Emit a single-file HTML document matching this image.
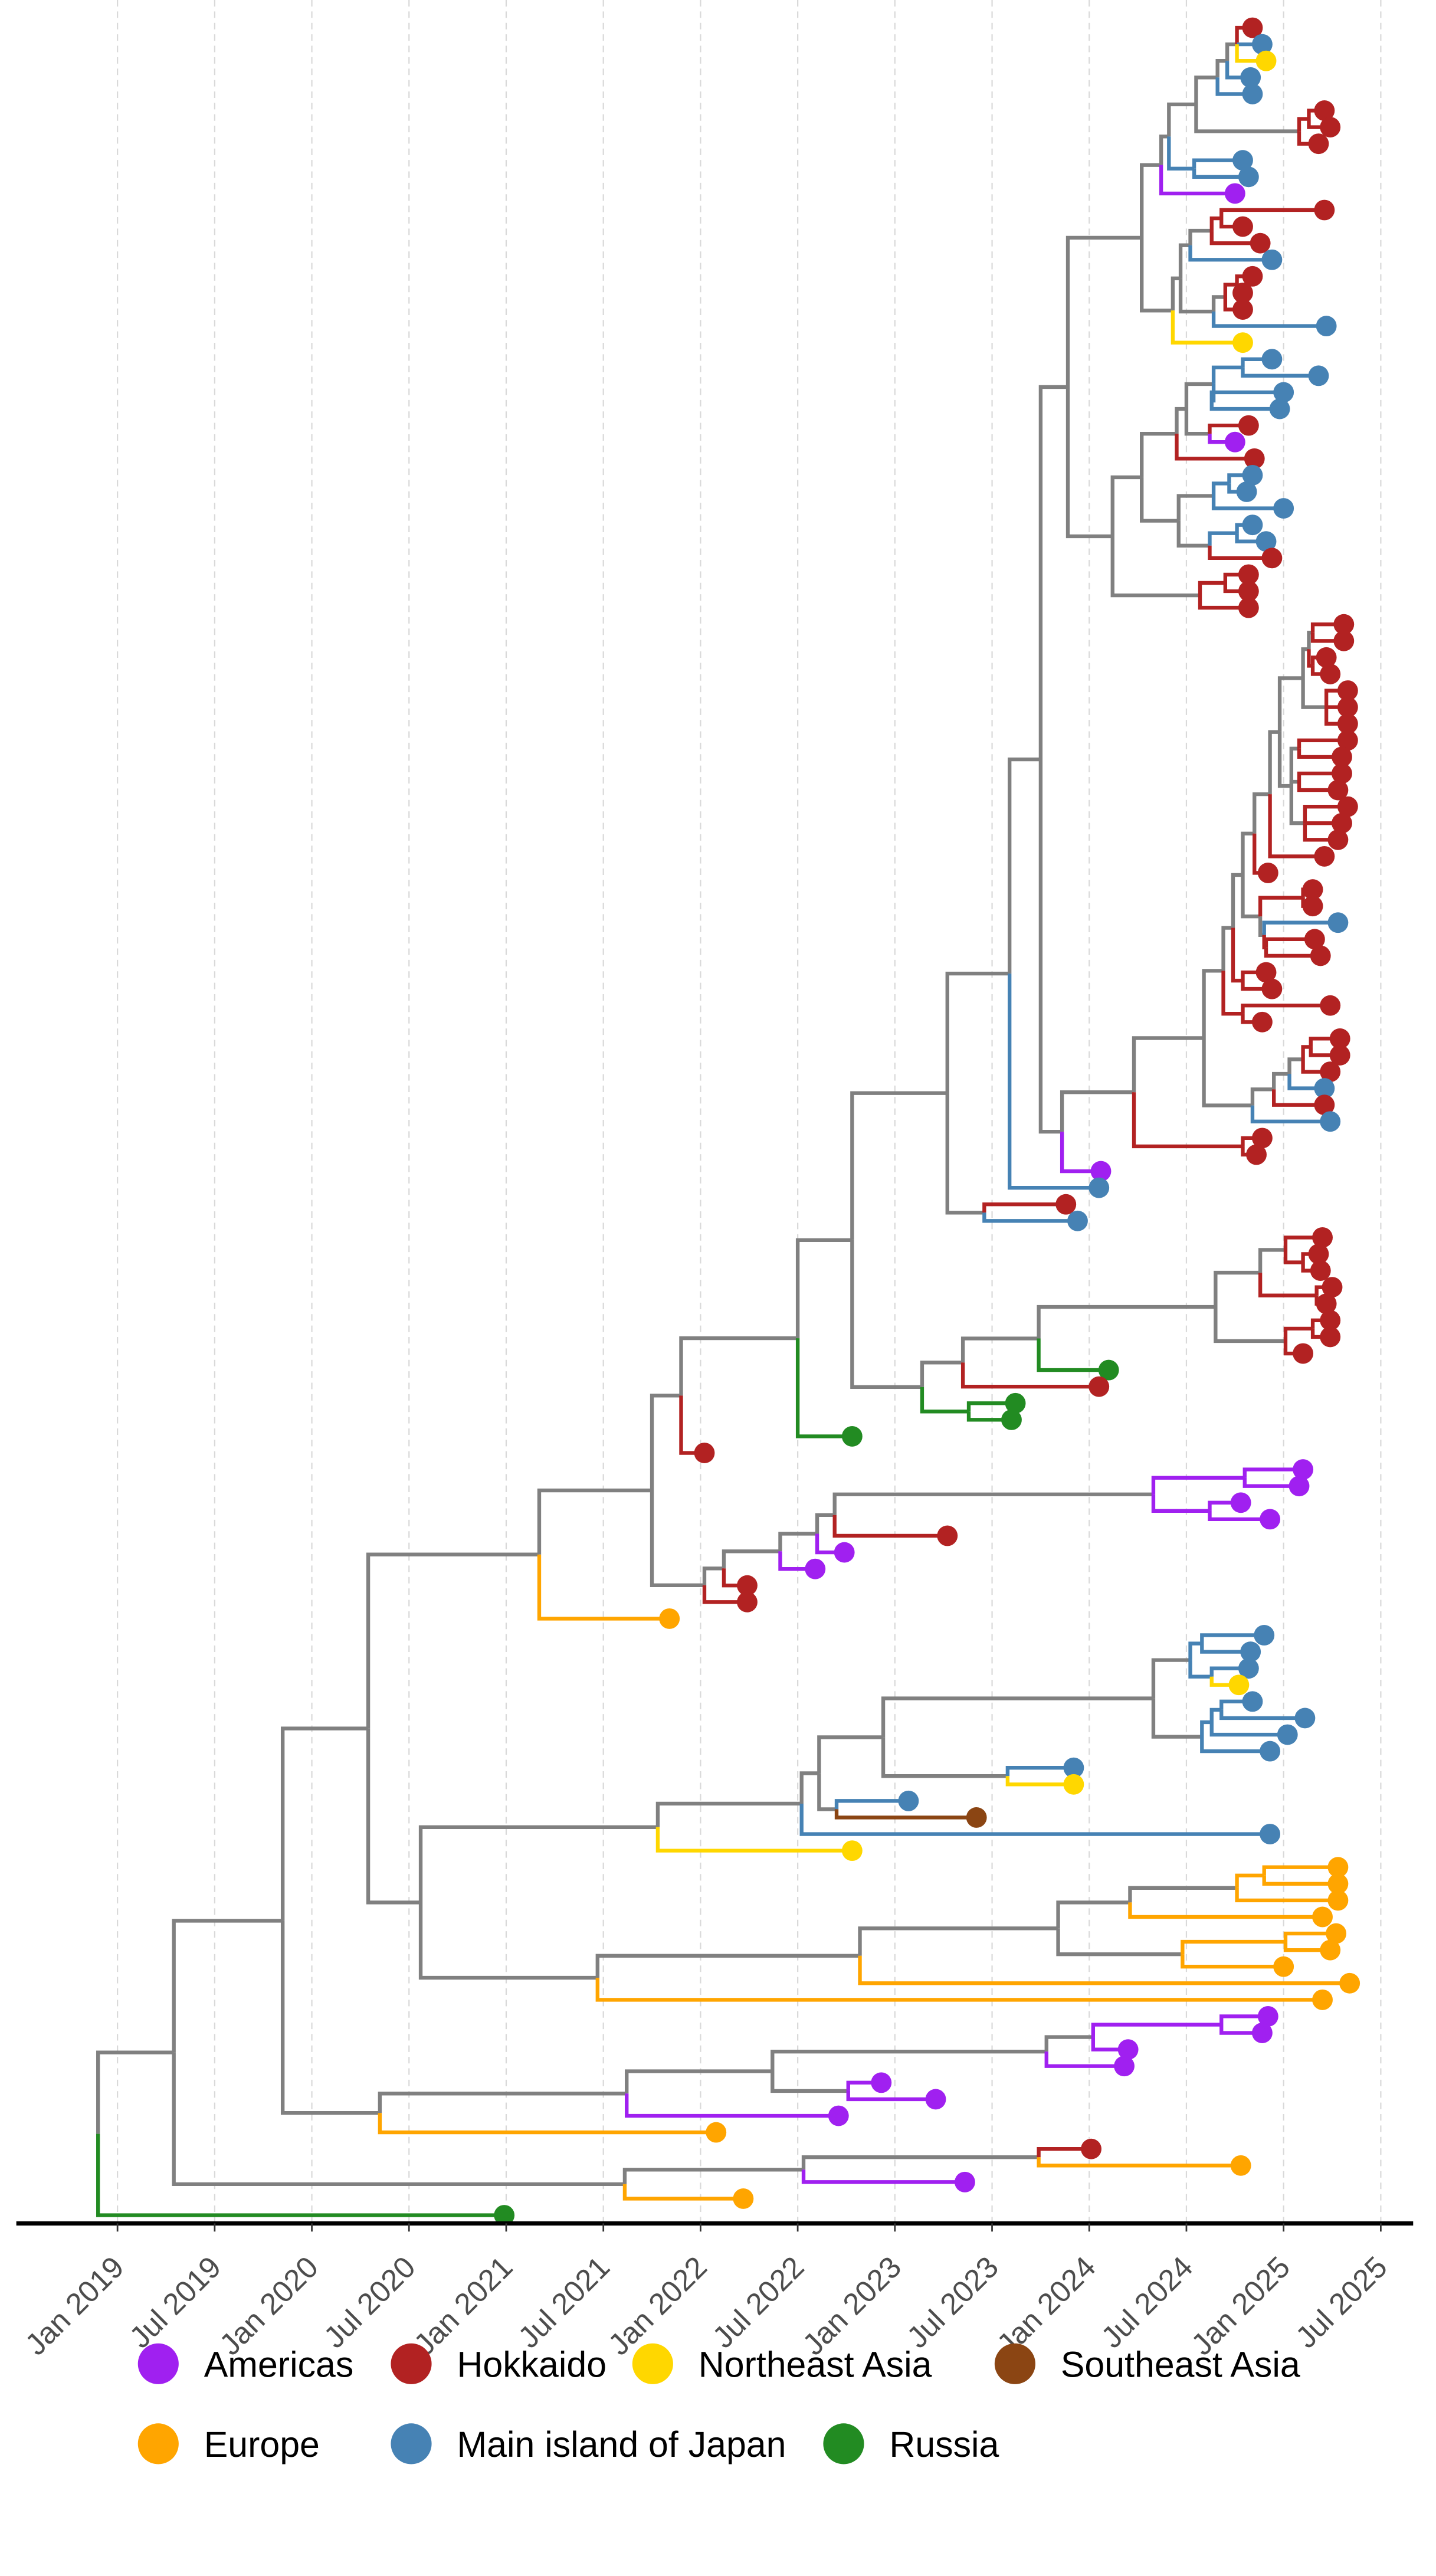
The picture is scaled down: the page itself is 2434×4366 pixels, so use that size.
<!DOCTYPE html>
<html><head><meta charset="utf-8"><title>Phylogenetic tree</title>
<style>
html,body{margin:0;padding:0;background:#fff;}
#chart{display:block;width:2434px;height:4366px;}
</style></head>
<body>
<svg id="chart" xmlns="http://www.w3.org/2000/svg" width="2434" height="4366" viewBox="0 0 880 1578" preserveAspectRatio="none">
  <g id="grid"></g>
  <g id="edges"></g>
  <g id="tips"></g>
  <g id="axis"></g>
  <g id="legend"></g>
</svg>
<script>
// ---- data ----
const tickDates = [2019.0,2019.5,2020.0,2020.5,2021.0,2021.5,2022.0,2022.5,2023.0,2023.5,2024.0,2024.5,2025.0,2025.5];
const tickLabels = ["Jan 2019","Jul 2019","Jan 2020","Jul 2020","Jan 2021","Jul 2021","Jan 2022","Jul 2022","Jan 2023","Jul 2023","Jan 2024","Jul 2024","Jan 2025","Jul 2025"];
const regionCodes = ["p","r","y","n","o","b","g","x"];
const regionNames = ["Americas","Hokkaido","Northeast Asia","Southeast Asia","Europe","Main island of Japan","Russia","Unassigned"];
const regionColors = ["#A020F0","#B22222","#FFD700","#8B4513","#FFA500","#4682B4","#228B22","#808080"];

// tree: node = [date, region, child...], tip = [date, region]
const A1 = [2024.27,'x',
  [2024.37,'x',
    [2024.41,'x',
      [2024.55,'x',
        [2024.66,'x',[2024.71,'x',[2024.76,'x',[2024.84,'r'],[2024.89,'b'],[2024.91,'y']],[2024.83,'b']],[2024.84,'b']],
        [2025.08,'x',[2025.13,'r',[2025.21,'r'],[2025.24,'r']],[2025.18,'r']]],
      [2024.54,'b',[2024.79,'b'],[2024.82,'b']]],
    [2024.75,'p']],
  [2024.43,'x',
    [2024.47,'x',
      [2024.52,'x',[2024.63,'x',[2024.68,'r',[2025.21,'r'],[2024.79,'r']],[2024.88,'r']],[2024.94,'b']],
      [2024.64,'x',[2024.70,'x',[2024.76,'r',[2024.84,'r'],[2024.79,'r']],[2024.79,'r']],[2025.22,'b']]],
    [2024.79,'y']]];
const A2 = [2024.12,'x',
  [2024.27,'x',
    [2024.45,'x',
      [2024.50,'x',
        [2024.64,'x',[2024.79,'b',[2024.94,'b'],[2025.18,'b']],[2024.63,'b',[2025.00,'b'],[2024.98,'b']]],
        [2024.62,'x',[2024.82,'r'],[2024.75,'p']]],
      [2024.85,'r']],
    [2024.46,'x',
      [2024.64,'x',[2024.72,'b',[2024.84,'b'],[2024.81,'b']],[2025.00,'b']],
      [2024.62,'x',[2024.76,'b',[2024.84,'b'],[2024.91,'b']],[2024.94,'r']]]],
  [2024.57,'x',[2024.70,'r',[2024.82,'r'],[2024.82,'r']],[2024.82,'r']]];
const B = [2024.23,'x',
  [2024.59,'x',
    [2024.69,'x',
      [2024.74,'x',
        [2024.79,'x',
          [2024.85,'x',
            [2024.93,'x',
              [2024.98,'x',
                [2025.10,'x',
                  [2025.13,'x',[2025.15,'x',[2025.31,'r'],[2025.31,'r']],[2025.15,'r',[2025.22,'r'],[2025.24,'r']]],
                  [2025.22,'x',[2025.33,'r'],[2025.33,'r'],[2025.33,'r']]],
                [2025.04,'x',[2025.08,'x',[2025.33,'r'],[2025.30,'r']],[2025.08,'x',[2025.30,'r'],[2025.28,'r']],[2025.11,'x',[2025.33,'r'],[2025.30,'r'],[2025.28,'r']]]],
              [2025.21,'r']],
            [2024.92,'r']],
          [2024.88,'x',[2025.10,'r',[2025.15,'r'],[2025.15,'r']],[2024.90,'x',[2025.28,'b'],[2024.91,'r',[2025.16,'r'],[2025.19,'r']]]]],
        [2024.79,'r',[2024.91,'r'],[2024.94,'r']]],
      [2024.79,'r',[2025.24,'r'],[2024.89,'r']]],
    [2024.84,'x',[2024.95,'x',[2025.03,'x',[2025.10,'x',[2025.14,'r',[2025.29,'r'],[2025.29,'r']],[2025.24,'r']],[2025.21,'b']],[2025.21,'r']],[2025.24,'b']]],
  [2024.79,'r',[2024.89,'r'],[2024.86,'r']]];
const C745 = [2024.65,'x',
  [2024.88,'x',[2025.01,'x',[2025.20,'r'],[2025.10,'r',[2025.18,'r'],[2025.19,'r']]],[2025.17,'r',[2025.25,'r'],[2025.22,'r']]],
  [2025.01,'x',[2025.15,'r',[2025.24,'r'],[2025.24,'r']],[2025.10,'r']]];
const C432 = [2022.02,'x',
  [2022.12,'x',
    [2022.41,'x',
      [2022.60,'x',
        [2022.69,'x',
          [2024.33,'x',[2024.80,'p',[2025.10,'p'],[2025.08,'p']],[2024.62,'p',[2024.78,'p'],[2024.93,'p']]],
          [2023.27,'r']],
        [2022.74,'p']],
      [2022.59,'p']],
    [2022.24,'r']],
  [2022.24,'r']];
const C403 = [2021.78,'x',
  [2022.52,'x',
    [2022.61,'x',
      [2022.94,'x',
        [2024.33,'x',
          [2024.52,'x',[2024.58,'b',[2024.90,'b'],[2024.83,'b']],[2024.63,'b',[2024.82,'b'],[2024.77,'y']]],
          [2024.58,'x',[2024.63,'b',[2024.68,'b',[2024.84,'b'],[2025.11,'b']],[2025.02,'b']],[2024.93,'b']]],
        [2023.58,'x',[2023.92,'b'],[2023.92,'y']]],
      [2022.70,'x',[2023.07,'b'],[2023.42,'n']]],
    [2024.93,'b']],
  [2022.78,'y']];
const C366 = [2021.47,'x',
  [2022.82,'x',
    [2023.84,'x',
      [2024.21,'x',[2024.76,'x',[2024.90,'o',[2025.28,'o'],[2025.28,'o']],[2025.28,'o']],[2025.20,'o']],
      [2024.48,'x',[2025.01,'o',[2025.27,'o'],[2025.24,'o']],[2025.00,'o']]],
    [2025.34,'o']],
  [2025.20,'o']];
const C331 = [2021.17,'x',
  [2021.75,'x',
    [2021.90,'x',
      [2022.50,'x',
        [2022.78,'x',
          [2023.27,'x',
            [2023.59,'x',
              [2023.75,'x',[2023.89,'x',A1,A2],[2023.86,'x',B,[2024.06,'p']]],
              [2024.05,'b']],
            [2023.46,'x',[2023.88,'r'],[2023.94,'b']]],
          [2023.14,'x',
            [2023.35,'x',[2023.74,'x',C745,[2024.10,'g']],[2024.05,'r']],
            [2023.38,'g',[2023.62,'g'],[2023.60,'g']]]],
        [2022.78,'g']],
      [2022.02,'r']],
    C432],
  [2021.84,'o']];
const C5 = [2020.35,'x',
  [2021.62,'x',
    [2022.37,'x',
      [2023.78,'x',[2024.02,'x',[2024.68,'p',[2024.92,'p'],[2024.89,'p']],[2024.20,'p']],[2024.18,'p']],
      [2022.76,'x',[2022.93,'p'],[2023.21,'p']]],
    [2022.71,'p']],
  [2022.08,'o']];
const C3 = [2021.61,'x',[2022.53,'x',[2023.74,'x',[2024.01,'r'],[2024.78,'o']],[2023.36,'p']],[2022.22,'o']];
const treeRoot = [2018.90,'x',
  [2019.29,'x',
    [2019.85,'x',[2020.29,'x',C331,[2020.56,'x',C403,C366]],C5],
    C3],
  [2020.99,'g']];

// ---- scales ----
const X0 = 72, PX_PER_YEAR = 119.1, Y_TOP = 17, Y_BOTTOM = 1357, AXIS_Y = 1362;
function xScale(d){ return X0 + (d - 2019) * PX_PER_YEAR; }
function colorOf(c){ return regionColors[regionCodes.indexOf(c)]; }
const NS = "http://www.w3.org/2000/svg";
function mk(tag, attrs, parent){
  const e = document.createElementNS(NS, tag);
  for (const k in attrs) e.setAttribute(k, attrs[k]);
  parent.appendChild(e); return e;
}

function countTips(n){ return n.length === 2 ? 1 : n.slice(2).reduce((s,c)=>s+countTips(c),0); }
const nTips = countTips(treeRoot);
const tipStep = (Y_BOTTOM - Y_TOP) / (nTips - 1);
let tipIdx = 0;
function layout(n){
  if (n.length === 2){ const y = Y_TOP + tipIdx * tipStep; tipIdx++; return {d:n[0], c:n[1], y:y, kids:[]}; }
  const kids = n.slice(2).map(layout);
  return {d:n[0], c:n[1], y:(kids[0].y + kids[kids.length-1].y)/2, kids:kids};
}
const L = layout(treeRoot);

const gGrid = document.getElementById('grid');
const gEdges = document.getElementById('edges');
const gTips = document.getElementById('tips');
const gAxis = document.getElementById('axis');
const gLeg = document.getElementById('legend');

tickDates.forEach((d,i)=>{
  const gl = mk('line',{x1:xScale(d),x2:xScale(d),y1:0,y2:AXIS_Y,stroke:'#d9d9d9','stroke-width':0.8,'stroke-dasharray':'4,3'},gGrid);
  
  
});

const grayEdges = [], colEdges = [];
function collect(n){
  n.kids.forEach(k=>{ (k.c === 'x' ? grayEdges : colEdges).push([n,k]); collect(k); });
}
collect(L);
function drawEdge(p,k){
  const px = xScale(p.d), kx = xScale(k.d);
  const path = mk('path',{d:`M${px},${p.y}V${k.y}H${kx}`,fill:'none',stroke:colorOf(k.c),'stroke-width':2.3,'stroke-linejoin':'miter','stroke-linecap':'butt'},gEdges);
  
  
}
grayEdges.forEach(e=>drawEdge(e[0],e[1]));
colEdges.forEach(e=>drawEdge(e[0],e[1]));

function drawTips(n){
  if (n.kids.length === 0){
    const c = mk('circle',{cx:xScale(n.d),cy:n.y,r:6.3,fill:colorOf(n.c)},gTips);
    
    
  } else n.kids.forEach(drawTips);
}
drawTips(L);

const axLine = mk('line',{x1:10,x2:866,y1:AXIS_Y,y2:AXIS_Y,stroke:'#000','stroke-width':2.6},gAxis);


tickDates.forEach((d,i)=>{
  const x = xScale(d);
  const t = mk('line',{x1:x,x2:x,y1:AXIS_Y,y2:AXIS_Y+5,stroke:'#333','stroke-width':1},gAxis);
  
  
  const lb = mk('text',{x:x+5,y:AXIS_Y+28,'text-anchor':'end',transform:`rotate(-45 ${x+5} ${AXIS_Y+28})`,'font-family':'Liberation Sans, sans-serif','font-size':18.5,fill:'#4d4d4d'},gAxis);
  lb.textContent = tickLabels[i];
  
  
});

const legendOrder = [0,1,2,3,4,5,6];
const legendPos = [[97,1448],[252,1448],[400,1448],[622,1448],[97,1497],[252,1497],[517,1497]];
legendOrder.forEach((ri,i)=>{
  const g = mk('g',{},gLeg);
  
  
  const [lx,ly] = legendPos[i];
  mk('circle',{cx:lx,cy:ly,r:12.5,fill:regionColors[ri]},g);
  const tx = mk('text',{x:lx+28,y:ly+8,'font-family':'Liberation Sans, sans-serif','font-size':22,fill:'#000'},g);
  tx.textContent = regionNames[ri];
});
</script>
</body></html>
